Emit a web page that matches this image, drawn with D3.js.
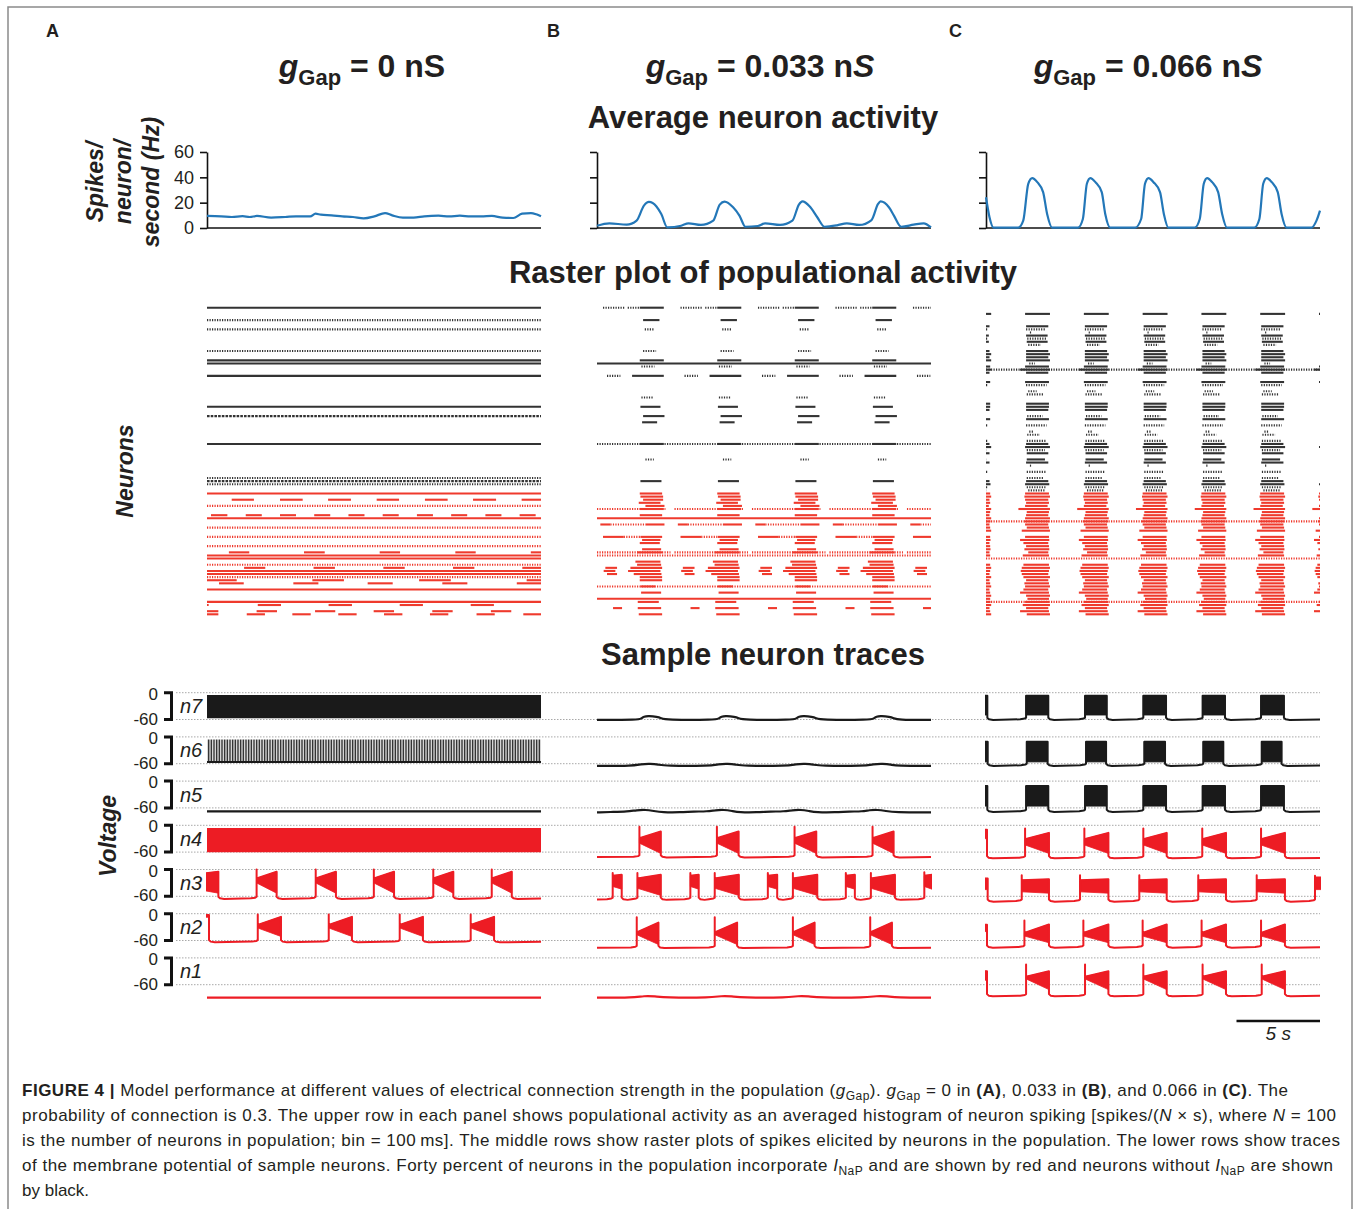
<!DOCTYPE html>
<html>
<head>
<meta charset="utf-8">
<script src="https://cdn.jsdelivr.net/npm/d3@7"></script>
<style>
  body { margin: 0; background: #fff; }
  svg text { font-family: "Liberation Sans", Arial, sans-serif; fill: #231f20; }
</style>
</head>
<body>
<script>
//---------------- data ----------------
var panelLabels = ["A", "B", "C"];
var gapValues = ["0", "0.033", "0.066"];
var activityTicks = [0, 20, 40, 60];
var activityLabel = ["Spikes/", "neuron/", "second (Hz)"];
var voltTicks = [0, -60];
var traceNames = ["n7", "n6", "n5", "n4", "n3", "n2", "n1"];
var scaleBarSec = 5;

//average neuron activity, [time (s), rate (Hz)]
var activityA = [[0,9.5],[0.85,9.2],[1.49,8.7],[2.13,9.3],[2.56,8.7],[2.99,9.5],[3.84,8.2],[4.69,8.7],[5.33,9.2],[6.18,9.2],[6.5,11.3],[6.82,10.5],[7.46,10],[8.1,9.2],[8.74,8.7],[9.38,7.6],[10.02,9.2],[10.66,11.8],[11.09,10],[11.73,8.2],[12.37,8.2],[13.01,9.2],[13.86,9.7],[14.5,9.2],[15.14,9.7],[15.78,9.2],[16.42,9.2],[17.06,9.5],[17.7,8.2],[18.34,7.9],[18.87,11.3],[19.4,11.8],[19.72,10.8],[20,9.2]];
var activityB = [[0,1.8],[0.74,3.7],[1.78,2.6],[2.37,5.8],[2.81,17.7],[3.11,20.6],[3.56,17],[3.85,11],[4.21,0.5],[5.04,1.8],[5.48,3.7],[6.22,2.4],[6.96,5.8],[7.35,18.5],[7.64,20.9],[8.15,16.4],[8.53,9.8],[8.89,1],[9.63,1.6],[10.07,3.7],[10.96,2.4],[11.7,5.8],[12.09,18.5],[12.3,21],[12.74,17],[13.19,8.5],[13.63,1],[14.37,2.1],[14.96,3.7],[15.7,2.4],[16.44,6.3],[16.83,19],[16.98,21],[17.48,16.4],[17.78,9.8],[18.22,1],[18.96,2.6],[19.56,3.7],[20,0.5]];
var activityC = [[0,24.3],[0.21,8.5],[0.45,0.3],[1.93,0.3],[2.23,5.8],[2.53,34.9],[2.77,39.4],[3.07,36.2],[3.42,28.3],[3.66,11.1],[3.96,0.3],[5.51,0.3],[5.8,7.1],[6.04,34.9],[6.25,39.4],[6.55,36.2],[6.93,28.3],[7.14,11.1],[7.44,0.3],[8.93,0.3],[9.29,7.1],[9.52,34.9],[9.73,39.4],[10.03,36.2],[10.42,28.3],[10.65,11.1],[10.92,0.3],[12.5,0.3],[12.8,7.1],[13.04,34.9],[13.24,39.4],[13.54,36.2],[13.9,28.3],[14.14,11.1],[14.43,0.3],[16.07,0.3],[16.37,7.1],[16.6,34.9],[16.81,39.4],[17.11,36.2],[17.47,28.3],[17.7,11.1],[18.0,0.3],[19.49,0.3],[19.79,5.8],[20,13.7]];

//raster rows: neuron number (1-40 red, 41-100 black), spike style s=dense, d=sparse, m=medium
//seg = absolute [t0,t1], cyc = [t0,t1,style] repeated at each cycle start
var rasterA = [
  {n:100,c:"k",full:"s"},{n:96,c:"k",full:"d"},{n:93,c:"k",full:"d"},{n:86,c:"k",full:"d"},
  {n:83,c:"k",full:"s"},{n:82,c:"k",full:"s"},{n:78,c:"k",full:"s"},{n:68,c:"k",full:"s"},
  {n:65,c:"k",full:"m"},{n:56,c:"k",full:"s"},{n:45,c:"k",full:"d"},{n:44,c:"k",full:"m"},{n:43,c:"k",full:"d"},
  {n:40,c:"r",full:"s"},
  {n:38,c:"r",seg:[[1.48,2.81],[4.37,5.73],[7.25,8.62],[10.16,11.5],[13.05,14.41],[15.93,17.31],[18.84,20]]},
  {n:36,c:"r",full:"d"},
  {n:33,c:"r",seg:[[0.24,1.22],[2.32,3.28],[4.37,5.33],[6.42,7.38],[8.47,9.43],[10.52,11.48],[12.57,13.53],[14.62,15.58],[16.67,17.63],[18.72,19.68]]},
  {n:32,c:"r",full:"s"},{n:29,c:"r",full:"d"},{n:26,c:"r",full:"d"},{n:23,c:"r",full:"d"},
  {n:21,c:"r",seg:[[1.31,2.53],[5.81,7.05],[10.34,11.56],[14.87,16.09],[19.39,20]]},
  {n:20,c:"r",full:"s"},{n:19,c:"r",full:"s"},{n:17,c:"r",full:"d"},
  {n:16,c:"r",seg:[[2.22,3.49],[6.38,7.66],[10.56,11.84],[14.73,16.01],[18.88,20]]},
  {n:15,c:"r",full:"s"},{n:14,c:"r",full:"s"},{n:13,c:"r",full:"d"},
  {n:12,c:"r",seg:[[0,1.78],[6.31,8.2],[12.7,14.6],[19.14,20]]},
  {n:11,c:"r",seg:[[0.72,2.2],[5.17,6.67],[9.62,11.12],[14.09,15.59],[18.55,20]]},
  {n:9,c:"r",full:"s"},{n:5,c:"r",full:"s"},
  {n:4,c:"r",seg:[[0,0.1],[3.04,4.43],[7.28,8.68],[11.54,12.93],[15.79,17.18]]},
  {n:2,c:"r",seg:[[0,0.68],[2.97,4.19],[6.47,7.68],[9.98,11.2],[13.49,14.71],[17.0,18.22]]},
  {n:1,c:"r",seg:[[0,0.68],[2.38,3.47],[5.11,6.21],[7.86,8.96],[10.6,11.7],[13.35,14.45],[16.14,17.23],[18.94,20]]}
];

var cycleB = [0, 4.64, 9.28, 13.92, 18.56];
var rasterB = [
  {n:100,c:"k",cyc:[[0.36,1.64,"d"],[1.84,2.56,"d"],[2.56,4.0,"s"]]},
  {n:96,c:"k",cyc:[[2.76,3.74,"s"]]},{n:93,c:"k",cyc:[[2.86,3.44,"d"]]},{n:86,c:"k",cyc:[[2.76,3.54,"d"]]},
  {n:83,c:"k",cyc:[[2.56,4.0,"s"]]},{n:82,c:"k",full:"s"},{n:81,c:"k",cyc:[[2.66,3.44,"d"]]},
  {n:78,c:"k",cyc:[[0.6,1.4,"d"],[2.1,4.0,"s"]]},{n:71,c:"k",cyc:[[2.66,3.4,"d"]]},
  {n:68,c:"k",cyc:[[2.6,3.8,"s"]]},{n:65,c:"k",cyc:[[2.76,4.04,"s"]]},{n:63,c:"k",cyc:[[2.7,3.6,"s"]]},
  {n:56,c:"k",full:"d",cyc:[[2.56,4.0,"s"]]},{n:51,c:"k",cyc:[[2.9,3.4,"d"]]},{n:44,c:"k",cyc:[[2.6,3.86,"s"]]},
  {n:40,c:"r",cyc:[[2.56,3.9,"s"]]},{n:39,c:"r",cyc:[[2.6,3.96,"s"]]},{n:38,c:"r",cyc:[[2.76,3.96,"s"]]},
  {n:37,c:"r",cyc:[[2.5,3.8,"s"]]},{n:36,c:"r",cyc:[[2.9,4.04,"s"]]},
  {n:35,c:"r",cyc:[[0,4.1,"d"],[2.56,4.0,"s"]]},{n:33,c:"r",cyc:[[2.56,3.9,"s"]]},{n:32,c:"r",full:"s"},
  {n:30,c:"r",cyc:[[0.2,0.8,"s"],[0.8,2.9,"d"],[2.9,4.04,"s"]]},
  {n:26,c:"r",cyc:[[0.36,1.6,"s"],[1.6,2.6,"d"],[2.6,3.9,"s"]]},
  {n:25,c:"r",cyc:[[2.7,3.8,"s"]]},{n:24,c:"r",cyc:[[2.56,3.76,"s"]]},{n:22,c:"r",cyc:[[2.7,3.84,"s"]]},
  {n:21,c:"r",cyc:[[0,4.4,"d"],[2.4,3.9,"s"]]},{n:20,c:"r",full:"d"},
  {n:18,c:"r",cyc:[[2.3,3.8,"s"]]},{n:17,c:"r",cyc:[[2.4,3.84,"s"]]},
  {n:16,c:"r",cyc:[[0.5,1.2,"s"],[2.0,3.9,"s"]]},{n:15,c:"r",cyc:[[0.4,1.1,"s"],[1.86,3.8,"s"]]},
  {n:14,c:"r",cyc:[[0.6,1.2,"s"],[2.2,3.86,"s"]]},{n:13,c:"r",cyc:[[2.56,3.9,"s"]]},{n:12,c:"r",cyc:[[2.56,3.9,"s"]]},
  {n:10,c:"r",full:"d",cyc:[[2.6,3.5,"s"]]},{n:8,c:"r",cyc:[[2.64,3.84,"s"]]},{n:6,c:"r",full:"s"},
  {n:5,c:"r",cyc:[[2.44,3.7,"s"]]},{n:3,c:"r",cyc:[[0.96,1.5,"s"],[2.44,3.84,"s"]]},{n:1,c:"r",cyc:[[2.5,3.9,"s"]]}
];

var cycleC = [-3.52, 0, 3.52, 7.04, 10.56, 14.08, 17.6];
var rasterC = [
  {n:98,c:"k",cyc:[[2.34,3.83,"s"]]},{n:94,c:"k",cyc:[[2.4,3.73,"s"]]},{n:93,c:"k",cyc:[[2.4,3.59,"d"]]},
  {n:92,c:"k",cyc:[[2.63,2.7,"d"]]},{n:91,c:"k",cyc:[[2.4,3.69,"s"]]},{n:90,c:"k",cyc:[[2.47,3.59,"d"]]},
  {n:89,c:"k",cyc:[[2.44,3.69,"s"]]},{n:88,c:"k",cyc:[[2.53,3.29,"d"]]},{n:86,c:"k",cyc:[[2.4,3.73,"s"]]},
  {n:85,c:"k",cyc:[[2.4,3.83,"s"]]},{n:84,c:"k",cyc:[[2.4,3.73,"s"]]},{n:83,c:"k",cyc:[[2.4,3.83,"s"]]},
  {n:82,c:"k",cyc:[[2.59,2.93,"d"]]},{n:81,c:"k",cyc:[[2.34,3.77,"s"]]},
  {n:80,c:"k",full:"d",cyc:[[2.04,3.83,"s"]]},{n:79,c:"k",cyc:[[2.4,3.73,"s"]]},
  {n:76,c:"k",cyc:[[2.34,3.77,"s"]]},{n:75,c:"k",cyc:[[2.4,3.63,"d"]]},{n:73,c:"k",cyc:[[2.53,3.03,"d"]]},
  {n:72,c:"k",cyc:[[2.44,3.43,"d"]]},{n:69,c:"k",cyc:[[2.4,3.77,"s"]]},{n:68,c:"k",cyc:[[2.4,3.77,"s"]]},
  {n:67,c:"k",cyc:[[2.4,3.73,"s"]]},{n:65,c:"k",cyc:[[2.47,3.39,"d"]]},{n:64,c:"k",cyc:[[2.4,3.77,"s"]]},
  {n:62,c:"k",cyc:[[2.4,3.63,"d"]]},{n:60,c:"k",cyc:[[2.59,2.83,"d"]]},{n:59,c:"k",cyc:[[2.47,3.23,"d"]]},
  {n:57,c:"k",cyc:[[2.44,3.63,"d"]]},{n:56,c:"k",cyc:[[2.4,3.73,"s"]]},{n:55,c:"k",cyc:[[2.34,3.83,"s"]]},
  {n:54,c:"k",cyc:[[2.44,3.53,"d"]]},{n:53,c:"k",cyc:[[2.44,3.73,"s"]]},{n:51,c:"k",cyc:[[2.44,3.53,"s"]]},
  {n:50,c:"k",cyc:[[2.4,3.73,"s"]]},{n:49,c:"k",cyc:[[2.63,2.7,"d"]]},{n:47,c:"k",cyc:[[2.44,3.63,"d"]]},
  {n:45,c:"k",cyc:[[2.44,3.43,"d"]]},{n:44,c:"k",cyc:[[2.4,3.73,"s"]]},{n:43,c:"k",cyc:[[2.34,3.79,"s"]]},
  {n:42,c:"k",cyc:[[2.44,3.59,"d"]]},{n:41,c:"k",cyc:[[2.53,3.53,"d"]]},
  {n:40,c:"r",cyc:[[2.34,3.77,"s"]]},{n:39,c:"r",cyc:[[2.3,3.83,"s"]]},{n:38,c:"r",cyc:[[2.34,3.73,"s"]]},
  {n:37,c:"r",cyc:[[2.4,3.77,"s"]]},{n:36,c:"r",cyc:[[2.34,3.69,"s"]]},{n:35,c:"r",cyc:[[1.94,3.83,"s"]]},
  {n:34,c:"r",cyc:[[2.44,3.77,"s"]]},{n:33,c:"r",cyc:[[2.4,3.73,"s"]]},{n:32,c:"r",cyc:[[2.34,3.83,"s"]]},
  {n:31,c:"r",full:"d",cyc:[[2.28,3.79,"s"]]},{n:30,c:"r",cyc:[[2.34,3.73,"s"]]},{n:29,c:"r",cyc:[[2.44,3.77,"s"]]},
  {n:28,c:"r",cyc:[[2.14,3.83,"s"]]},{n:26,c:"r",cyc:[[2.34,3.77,"s"]]},{n:25,c:"r",cyc:[[2.04,3.79,"s"]]},
  {n:24,c:"r",cyc:[[2.24,3.73,"s"]]},{n:23,c:"r",cyc:[[2.4,3.77,"s"]]},{n:22,c:"r",cyc:[[2.3,3.79,"s"]]},
  {n:21,c:"r",cyc:[[2.53,3.73,"s"]]},{n:20,c:"r",cyc:[[2.2,3.77,"s"]]},{n:19,c:"r",full:"d"},
  {n:17,c:"r",cyc:[[2.24,3.77,"s"]]},{n:16,c:"r",cyc:[[2.14,3.83,"s"]]},{n:15,c:"r",cyc:[[2.08,3.77,"s"]]},
  {n:14,c:"r",cyc:[[2.14,3.73,"s"]]},{n:13,c:"r",cyc:[[2.24,3.83,"s"]]},{n:12,c:"r",cyc:[[2.4,3.73,"s"]]},
  {n:11,c:"r",cyc:[[2.3,3.77,"s"]]},{n:10,c:"r",cyc:[[2.34,3.83,"s"]]},{n:9,c:"r",cyc:[[2.24,3.73,"s"]]},
  {n:8,c:"r",cyc:[[2.04,3.77,"s"]]},{n:7,c:"r",cyc:[[2.4,3.83,"s"]]},{n:6,c:"r",cyc:[[2.48,3.77,"s"]]},
  {n:5,c:"r",full:"d",cyc:[[2.34,3.79,"s"]]},{n:4,c:"r",cyc:[[2.2,3.83,"s"]]},{n:3,c:"r",cyc:[[2.4,3.73,"s"]]},
  {n:2,c:"r",cyc:[[2.04,3.77,"s"]]},{n:1,c:"r",cyc:[[2.44,3.83,"s"]]}
];

//sample traces (mV). bursts: [t0,t1] or [t0,t1,topStart,topEnd,botStart,botEnd,peak]
//env = [topStart, topEnd, botStart, botEnd] of the spiking envelope
var tracesA = [
  {c:"k", block:[-5,-55], fill:"solid"},
  {c:"k", block:[-6,-56], fill:"stripes"},
  {c:"k", pts:[[0,-68],[20,-68]]},
  {c:"r", block:[-6,-58], fill:"solid"},
  {c:"r", base:-66, env:[-20,-5,-30,-53], peak:0,
   bursts:[[-0.5,0.68,-10,-5,-45,-53],[2.97,4.17],[6.51,7.72],[9.99,11.2],[13.55,14.75],[17.05,18.25]]},
  {c:"r", base:-64, env:[-25,-7,-32,-51], peak:-2,
   bursts:[[-0.2,0.12,-3,-3,-8,-8],[3.04,4.43],[7.29,8.68],[11.54,12.93],[15.79,17.19]]},
  {c:"r", pts:[[0,-89],[20,-89]]}
];
var tracesB = [
  {c:"k", pts:[[0,-61],[2.5,-61],[2.65,-58],[2.8,-53],[3.1,-52],[3.6,-54],[3.85,-57],[4.05,-61],[7.14,-61],[7.29,-58],[7.44,-53],[7.74,-52],[8.24,-54],[8.49,-57],[8.69,-61],[11.78,-61],[11.93,-58],[12.08,-53],[12.38,-52],[12.88,-54],[13.13,-57],[13.33,-61],[16.42,-61],[16.57,-58],[16.72,-53],[17.02,-52],[17.52,-54],[17.77,-57],[17.97,-61],[20,-61]]},
  {c:"k", pts:[[0,-65],[2.2,-65],[2.6,-61],[3.2,-60],[3.7,-62],[4.0,-65],[6.84,-65],[7.24,-61],[7.84,-60],[8.34,-62],[8.64,-65],[11.48,-65],[11.88,-61],[12.48,-60],[12.98,-62],[13.28,-65],[16.12,-65],[16.52,-61],[17.12,-60],[17.62,-62],[17.92,-65],[20,-65]]},
  {c:"k", pts:[[0,-70],[1.0,-69],[1.8,-68],[2.4,-65],[2.9,-64],[3.4,-67],[3.9,-70],[5.0,-70],[5.8,-68],[6.6,-68],[7.1,-65],[7.6,-64],[8.1,-67],[8.5,-70],[9.6,-70],[10.4,-68],[11.2,-68],[11.7,-65],[12.2,-64],[12.7,-67],[13.1,-70],[14.3,-70],[15.1,-68],[15.9,-68],[16.3,-65],[16.8,-64],[17.3,-67],[17.8,-70],[20,-70]]},
  {c:"r", base:-72, env:[-29,-14,-40,-63], peak:-3,
   bursts:[[2.54,3.82],[7.18,8.48],[11.83,13.13],[16.5,17.76]]},
  {c:"r", base:-68, env:[-20,-12,-42,-58], peak:-8,
   bursts:[[0.94,1.48,-14,-12,-38,-44,-8],[2.42,3.82],[5.59,6.09,-14,-12,-38,-44,-8],[7.05,8.49],[10.23,10.79,-14,-12,-38,-44,-8],[11.73,13.19],[14.9,15.44,-14,-12,-38,-44,-8],[16.4,17.84],[19.6,20.5,-14,-10,-38,-50,-6]]},
  {c:"r", base:-77, env:[-42,-20,-47,-69], peak:-8,
   bursts:[[2.38,3.68],[7.05,8.39],[11.73,13.03],[16.36,17.66]]},
  {c:"r", pts:[[0,-89],[2.2,-89],[2.8,-85],[3.5,-86],[4.0,-89],[6.9,-89],[7.4,-85],[8.1,-86],[8.6,-89],[11.5,-89],[12.0,-85],[12.7,-86],[13.2,-89],[16.2,-89],[16.7,-85],[17.4,-86],[17.9,-89],[20,-89]]}
];
var tracesC = [
  {c:"k", base:-61, env:[-7,-7,-50,-50], peak:null,
   bursts:[[-1.2,0.08],[2.4,3.73],[5.93,7.23],[9.42,10.78],[12.97,14.31],[16.47,17.84]]},
  {c:"k", base:-65, env:[-11,-11,-56,-56], peak:null,
   bursts:[[-1.2,0.1],[2.44,3.69],[5.99,7.19],[9.48,10.72],[13.01,14.21],[16.51,17.7]]},
  {c:"k", base:-69, env:[-11,-11,-56,-56], peak:null,
   bursts:[[-1.2,0.08],[2.4,3.73],[5.93,7.23],[9.42,10.78],[12.97,14.31],[16.47,17.84]]},
  {c:"r", base:-74, env:[-31,-17,-44,-63], peak:-7,
   bursts:[[-1.2,0.06,-10,-10,-30,-30],[2.34,3.77],[5.89,7.33],[9.42,10.82],[12.95,14.37],[16.47,17.9]]},
  {c:"r", base:-72, env:[-24,-22,-50,-53], peak:-13,
   bursts:[[-1.2,0.1,-20,-20,-45,-45],[2.14,3.77],[5.63,7.33],[9.18,10.82],[12.71,14.37],[16.21,17.9],[19.7,20.5,-18,-18,-45,-45,-14]]},
  {c:"r", base:-76, env:[-43,-24,-50,-65], peak:-15,
   bursts:[[-1.2,0.06,-25,-25,-40,-40],[2.3,3.77],[5.83,7.33],[9.38,10.82],[12.91,14.37],[16.47,17.9]]},
  {c:"r", base:-86, env:[-42,-30,-47,-71], peak:-15,
   bursts:[[-1.2,0.06,-30,-30,-50,-50],[2.4,3.77],[5.93,7.33],[9.42,10.82],[12.97,14.37],[16.51,17.9]]}
];

var captionLines = [
  [["FIGURE 4 |","b"],[" Model performance at different values of electrical connection strength in the population (",""],["g","i"],["Gap","sub"],["). ",""],["g","i"],["Gap","sub"],[" = 0 in ",""],["(A)","b"],[", 0.033 in ",""],["(B)","b"],[", and 0.066 in ",""],["(C)","b"],[". The",""]],
  [["probability of connection is 0.3. The upper row in each panel shows populational activity as an averaged histogram of neuron spiking [spikes/(",""],["N","i"],[" \u00d7 s), where ",""],["N","i"],[" = 100",""]],
  [["is the number of neurons in population; bin = 100\u2009ms]. The middle rows show raster plots of spikes elicited by neurons in the population. The lower rows show traces",""]],
  [["of the membrane potential of sample neurons. Forty percent of neurons in the population incorporate ",""],["I","i"],["NaP","sub"],[" and are shown by red and neurons without ",""],["I","i"],["NaP","sub"],[" are shown",""]],
  [["by black.",""]]
];
var captionWidths = [1266, 1314, 1318, 1311, 0];

(function () {

    var activityData = [activityA, activityB, activityC];
    var rasterData = [rasterA, rasterB, rasterC];
    var rasterCycles = [null, cycleB, cycleC];
    var traceData = [tracesA, tracesB, tracesC];

    //layout
    var panelX = [207, 597, 986], panelW = 334;
    var labelX = [46, 547, 949];
    var titleX = [362, 760, 1148];
    var rasterRed = "#ef3a2d", rasterBlack = "#333",
        traceRed = "#ed1c24", traceBlack = "#1a1a1a";

    var svg = d3.select("body")
        .append("svg")
        .attr("width", 1360)
        .attr("height", 1209);

    var defs = svg.append("defs");

    //stripe pattern for resolved tonic spikes
    var pat = defs.append("pattern")
        .attr("id", "stripes")
        .attr("patternUnits", "userSpaceOnUse")
        .attr("width", 1.6)
        .attr("height", 10);
    pat.append("rect").attr("width", 0.85).attr("height", 10).attr("fill", traceBlack);

    //outer frame
    svg.append("rect")
        .attr("x", 8).attr("y", 7)
        .attr("width", 1344).attr("height", 1220)
        .attr("fill", "none")
        .attr("stroke", "#8a8a8a")
        .attr("stroke-width", 1.5);

    //panel letters and titles
    panelLabels.forEach(function (p, i) {
        svg.append("text")
            .attr("x", labelX[i]).attr("y", 37)
            .attr("font-size", 18).attr("font-weight", "bold")
            .text(p);

        var t = svg.append("text")
            .attr("x", titleX[i]).attr("y", 77)
            .attr("text-anchor", "middle")
            .attr("font-size", 32).attr("font-weight", "bold");
        t.append("tspan").attr("font-style", "italic").text("g");
        t.append("tspan").attr("font-size", 22).attr("dy", 8).text("Gap");
        t.append("tspan").attr("dy", -8).text(" = " + gapValues[i] + " n");
        t.append("tspan").attr("font-style", i > 0 ? "italic" : "normal").text("S");
    });

    //section headings
    [["Average neuron activity", 128], ["Raster plot of populational activity", 283], ["Sample neuron traces", 665]]
        .forEach(function (h) {
            svg.append("text")
                .attr("x", 763).attr("y", h[1])
                .attr("text-anchor", "middle")
                .attr("font-size", 31).attr("font-weight", "bold")
                .text(h[0]);
        });

    function xScale(i) {
        return d3.scaleLinear().domain([0, 20]).range([panelX[i], panelX[i] + panelW]);
    }

    //---------------- average activity ----------------
    var yAct = d3.scaleLinear().domain([0, 60]).range([228, 152]);

    activityData.forEach(function (data, i) {
        var x = xScale(i);

        var axis = d3.axisLeft(yAct)
            .tickValues(activityTicks)
            .tickSize(7)
            .tickSizeOuter(0)
            .tickPadding(6);
        if (i > 0) axis.tickFormat("");

        var g = svg.append("g")
            .attr("transform", "translate(" + panelX[i] + ",0)")
            .call(axis);
        g.attr("font-size", 18).attr("font-family", "Liberation Sans, Arial, sans-serif");
        g.selectAll("path, line").attr("stroke", "#111").attr("stroke-width", 1.6);
        g.selectAll("text").attr("fill", "#231f20");

        svg.append("line")
            .attr("x1", panelX[i]).attr("x2", panelX[i] + panelW)
            .attr("y1", yAct(0)).attr("y2", yAct(0))
            .attr("stroke", "#111").attr("stroke-width", 1.6);

        svg.append("path")
            .datum(data)
            .attr("fill", "none")
            .attr("stroke", "#2377b8")
            .attr("stroke-width", 2.2)
            .attr("d", d3.line()
                .x(function (d) { return x(d[0]); })
                .y(function (d) { return yAct(d[1]); })
                .curve(d3.curveMonotoneX));
    });

    //rotated axis titles
    activityLabel.forEach(function (s, k) {
        svg.append("text")
            .attr("transform", "translate(" + (103 + k * 28) + ",182) rotate(-90)")
            .attr("text-anchor", "middle")
            .attr("font-size", 23).attr("font-weight", "bold").attr("font-style", "italic")
            .text(s);
    });
    svg.append("text")
        .attr("transform", "translate(133,471) rotate(-90)")
        .attr("text-anchor", "middle")
        .attr("font-size", 23).attr("font-weight", "bold").attr("font-style", "italic")
        .text("Neurons");
    svg.append("text")
        .attr("transform", "translate(116,836) rotate(-90)")
        .attr("text-anchor", "middle")
        .attr("font-size", 23).attr("font-weight", "bold").attr("font-style", "italic")
        .text("Voltage");

    //---------------- raster ----------------
    var yRaster = d3.scaleLinear().domain([1, 100]).range([614.3, 307.7]);
    var dashes = { s: null, d: "1.2,1.3", m: "2.6,1.1" };

    function rowSegments(row, cycles) {
        var segs = [];
        if (row.full) segs.push([0, 20, row.full]);
        if (row.seg) row.seg.forEach(function (s) { segs.push([s[0], s[1], s[2] || "s"]); });
        if (row.cyc) cycles.forEach(function (c0) {
            row.cyc.forEach(function (s) {
                var a = Math.max(0, c0 + s[0]), b = Math.min(20, c0 + s[1]);
                if (b > a) segs.push([a, b, s[2]]);
            });
        });
        return segs;
    }

    rasterData.forEach(function (rows, i) {
        var x = xScale(i);
        var g = svg.append("g").attr("class", "raster");
        rows.forEach(function (row) {
            var segs = rowSegments(row, rasterCycles[i]);
            g.selectAll(null)
                .data(segs)
                .enter()
                .append("line")
                .attr("x1", function (d) { return x(d[0]); })
                .attr("x2", function (d) { return x(d[1]); })
                .attr("y1", yRaster(row.n))
                .attr("y2", yRaster(row.n))
                .attr("stroke", row.c === "r" ? rasterRed : rasterBlack)
                .attr("stroke-width", 2.1)
                .attr("stroke-dasharray", function (d) { return dashes[d[2]]; });
        });
    });

    //---------------- traces ----------------
    var zeroY0 = 692.7, rowStep = 44.2, mv60 = 26.8;

    function yTrace(k) {
        var z = zeroY0 + k * rowStep;
        return d3.scaleLinear().domain([-60, 0]).range([z + mv60, z]);
    }

    //reference dotted lines, scale brackets and names
    traceNames.forEach(function (name, k) {
        var y = yTrace(k);
        voltTicks.forEach(function (v) {
            svg.append("line")
                .attr("x1", 176).attr("x2", 1320)
                .attr("y1", y(v)).attr("y2", y(v))
                .attr("stroke", "#a8a8a8").attr("stroke-width", 1)
                .attr("stroke-dasharray", "1.5,1.5");
            svg.append("text")
                .attr("x", 158).attr("y", y(v) + (v === 0 ? 7 : 5))
                .attr("text-anchor", "end")
                .attr("font-size", 17)
                .text(v);
        });
        svg.append("path")
            .attr("d", "M164," + y(0) + "H171.5V" + y(-60) + "H164")
            .attr("fill", "none").attr("stroke", "#111").attr("stroke-width", 3);
        svg.append("text")
            .attr("x", 180).attr("y", (y(0) + y(-60)) / 2 + 7)
            .attr("font-size", 20).attr("font-style", "italic")
            .text(name);
    });

    //builds the membrane potential line and spike envelopes of a bursting trace
    function burstGeometry(tr) {
        var pts = [], polys = [], base = tr.base;
        tr.bursts.forEach(function (b, j) {
            var t0 = b[0], t1 = b[1];
            var e = b.length > 2 ? b.slice(2, 6) : tr.env;
            var peak = b.length > 2 ? (b[6] === undefined ? null : b[6]) : tr.peak;
            if (j === 0 && t0 > 0.4) pts.push([0, base + 1]);
            if (t0 > 0) {
                pts.push([t0 - 0.35, base + 1.5]);
                pts.push([t0 - 0.08, base + 3]);
                pts.push([t0, base + 5]);
            }
            if (peak !== null) pts.push([t0, peak]);
            pts.push([t0, e[0]]);
            pts.push([t1, e[1]]);
            polys.push([[t0, e[0]], [t1, e[1]], [t1, e[3]], [t0, e[2]]]);
            pts.push([t1, base + 5]);
            pts.push([t1 + 0.1, base + 1.5]);
            pts.push([t1 + 0.35, base]);
        });
        if (pts[pts.length - 1][0] < 20) pts.push([20, base + 1]);
        return { pts: pts, polys: polys };
    }

    traceData.forEach(function (traces, i) {
        var x = xScale(i);
        var clipId = "clip" + i;
        defs.append("clipPath").attr("id", clipId)
            .append("rect")
            .attr("x", panelX[i] - 1).attr("y", 670)
            .attr("width", panelW + 2).attr("height", 345);

        var g = svg.append("g").attr("clip-path", "url(#" + clipId + ")");

        traces.forEach(function (tr, k) {
            var y = yTrace(k);
            var col = tr.c === "r" ? traceRed : traceBlack;
            var line = d3.line()
                .x(function (d) { return x(d[0]); })
                .y(function (d) { return y(d[1]); });

            if (tr.block) {
                g.append("path")
                    .datum([[0, tr.block[0]], [20, tr.block[0]], [20, tr.block[1]], [0, tr.block[1]]])
                    .attr("d", function (d) { return line(d) + "Z"; })
                    .attr("fill", tr.fill === "stripes" ? "url(#stripes)" : col);
                g.append("path")
                    .datum([[0, tr.block[1]], [20, tr.block[1]]])
                    .attr("d", line)
                    .attr("stroke", col).attr("stroke-width", 2).attr("fill", "none");
            } else if (tr.pts) {
                g.append("path")
                    .datum(tr.pts)
                    .attr("d", line.curve(d3.curveBasis))
                    .attr("stroke", col).attr("stroke-width", 2.2).attr("fill", "none");
            } else {
                var geo = burstGeometry(tr);
                g.selectAll(null)
                    .data(geo.polys)
                    .enter()
                    .append("path")
                    .attr("d", function (d) { return line(d) + "Z"; })
                    .attr("fill", col)
                    .attr("stroke", col).attr("stroke-width", 0.8);
                g.append("path")
                    .datum(geo.pts)
                    .attr("d", line)
                    .attr("stroke", col).attr("stroke-width", 2).attr("fill", "none")
                    .attr("stroke-linejoin", "round");
            }
        });
    });

    //time scale bar (panel C)
    var xC = xScale(2);
    svg.append("line")
        .attr("x1", xC(20 - scaleBarSec)).attr("x2", xC(20))
        .attr("y1", 1021).attr("y2", 1021)
        .attr("stroke", "#111").attr("stroke-width", 2.5);
    svg.append("text")
        .attr("x", (xC(20 - scaleBarSec) + xC(20)) / 2).attr("y", 1040)
        .attr("text-anchor", "middle")
        .attr("font-size", 19).attr("font-style", "italic")
        .text(scaleBarSec + " s");

    //---------------- caption ----------------
    captionLines.forEach(function (parts, li) {
        var t = svg.append("text")
            .attr("x", 22).attr("y", 1096 + li * 25)
            .attr("font-size", 17)
            .attr("fill", "#231f20");
        if (captionWidths[li]) t.attr("textLength", captionWidths[li]).attr("lengthAdjust", "spacing");
        var inSub = false;
        parts.forEach(function (p) {
            var s = t.append("tspan").text(p[0]);
            if (p[1] === "b") s.attr("font-weight", "bold");
            if (p[1] === "i") s.attr("font-style", "italic");
            if (p[1] === "sub") {
                s.attr("font-size", 12).attr("dy", 4);
                inSub = true;
            } else if (inSub) {
                s.attr("dy", -4);
                inSub = false;
            }
        });
    });

})();
</script>
</body>
</html>
